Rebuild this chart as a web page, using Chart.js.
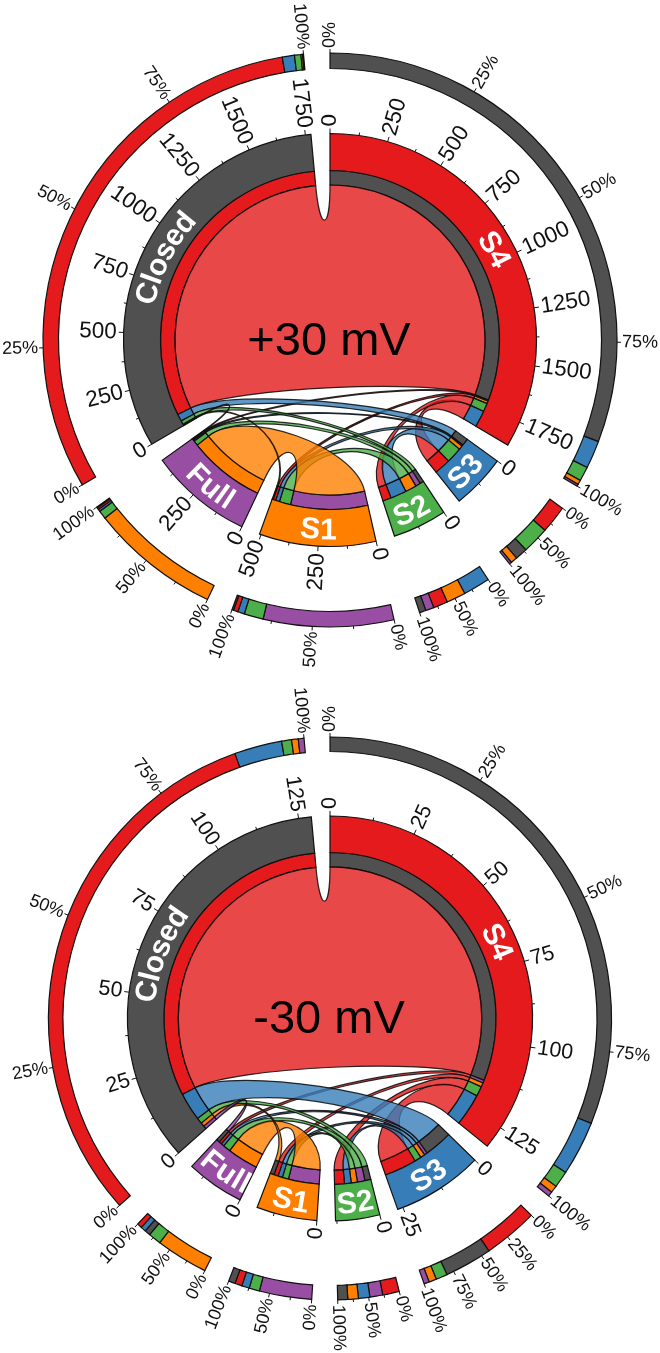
<!DOCTYPE html>
<html>
<head>
<meta charset="utf-8">
<script src="https://cdn.jsdelivr.net/npm/chart.js@4"></script>
<style>
html,body{margin:0;padding:0;background:#fff;}
canvas{position:absolute;left:0;}
</style>
</head>
<body>
<canvas id="topChart" style="top:0"></canvas>
<canvas id="bottomChart" style="top:684px"></canvas>
<script>
const sectors = ['S4','S3','S2','S1','Full','Closed'];
const sectorColors = ['#e41a1c','#377eb8','#4daf4a','#ff7f00','#984ea3','#505050'];
const ribbonColors = ['rgba(228,26,28,0.8)','rgba(55,126,184,0.8)','rgba(77,175,74,0.8)','rgba(255,127,0,0.8)','rgba(152,78,163,0.8)','rgba(80,80,80,0.8)'];
// clockwise order of partners inside each sector's link ring
const partnerOrder = [[5,4,3,2,1],[5,4,3,2,0],[5,4,3,1,0],[4,2,1,0,5],[3,2,1,0,5],[4,3,2,1,0]];

// +30 mV flows, rows and columns follow `sectors`
const topS4     = [0,87,45,14,6,1708];
const topS3     = [87,0,84,21,7,38];
const topS2     = [45,84,0,60,26,20];
const topS1     = [14,21,60,0,407,5];
const topFull   = [6,7,26,407,0,3];
const topClosed = [1708,38,20,5,3,0];
const topPercentLabelStep = [25,50,50,50,50,25];

// -30 mV flows
const botS4     = [0,11.5,3.5,1.5,1,114];
const botS3     = [11.5,0,2.4,1.6,1.1,10];
const botS2     = [3.5,2.4,0,2.2,2.7,2.1];
const botS1     = [1.5,1.6,2.2,0,11,1.4];
const botFull   = [1,1.1,2.7,11,0,1.2];
const botClosed = [114,10,2.1,1.4,1.2,0];
const botPercentLabelStep = [25,25,50,50,50,25];

const GAP_DEG = 5.3;
const RIBBON_PULL = 0.7;
const FONT = '"Liberation Sans", Arial, sans-serif';

function buildPanel(id, flows, opts) {
  const totals = flows.map(r => r.reduce((a,b)=>a+b,0));
  const grand = totals.reduce((a,b)=>a+b,0);
  const gap = grand * GAP_DEG / (360 - sectors.length * GAP_DEG);

  const main = {data:[],backgroundColor:[],borderWidth:[]};
  const link = {data:[],backgroundColor:[],borderWidth:[]};
  const pct  = {data:[],backgroundColor:[],borderWidth:[]};
  const push = (d,v,c,b) => {d.data.push(v);d.backgroundColor.push(c);d.borderWidth.push(b);};
  const mainIndex = [], linkIndex = {};

  sectors.forEach((name,i) => {
    mainIndex[i] = main.data.length;
    push(main,totals[i],sectorColors[i],1.2);
    push(main,gap,'rgba(0,0,0,0)',0);
    partnerOrder[i].forEach(p => {
      linkIndex[i+'-'+p] = link.data.length;
      push(link,flows[i][p],sectorColors[p],1.2);
    });
    push(link,gap,'rgba(0,0,0,0)',0);
    partnerOrder[i].slice().sort((a,b)=>flows[i][b]-flows[i][a]).forEach(p => {
      push(pct,flows[i][p],sectorColors[p],1.2);
    });
    push(pct,gap,'rgba(0,0,0,0)',0);
  });

  const R = opts.radii;
  const weights = [R[0]-R[1],R[1]-R[2],R[2]-R[3],R[3]-R[4]];

  const chordPlugin = {
    id:'chord',
    afterDatasetsDraw(chart){
      const ctx = chart.ctx;
      const cx = (chart.chartArea.left+chart.chartArea.right)/2;
      const cy = (chart.chartArea.top+chart.chartArea.bottom)/2;
      const mainArcs = chart.getDatasetMeta(2).data;
      const linkArcs = chart.getDatasetMeta(3).data;
      const rLink = linkArcs[0].innerRadius;
      const at = (a,r)=>[cx+r*Math.cos(a),cy+r*Math.sin(a)];
      const curve = (a,b) => {
        const c1=at(a,rLink*RIBBON_PULL), c2=at(b,rLink*RIBBON_PULL), p=at(b,rLink);
        ctx.bezierCurveTo(c1[0],c1[1],c2[0],c2[1],p[0],p[1]);
      };
      // ribbons
      ctx.save();
      for (let i=0;i<sectors.length;i++){
        for (let j=i+1;j<sectors.length;j++){
          const A = linkArcs[linkIndex[i+'-'+j]];
          const B = linkArcs[linkIndex[j+'-'+i]];
          ctx.beginPath();
          ctx.arc(cx,cy,rLink,A.startAngle,A.endAngle);
          curve(A.endAngle,B.startAngle);
          ctx.arc(cx,cy,rLink,B.startAngle,B.endAngle);
          curve(B.endAngle,A.startAngle);
          ctx.closePath();
          ctx.fillStyle = ribbonColors[i];
          ctx.fill();
          ctx.strokeStyle='rgba(10,10,10,0.85)';
          ctx.lineWidth=1.2;
          ctx.stroke();
        }
      }
      ctx.restore();

      const tick = (a,r0,len) => {
        const p0=at(a,r0), p1=at(a,r0+len);
        ctx.beginPath();ctx.moveTo(p0[0],p0[1]);ctx.lineTo(p1[0],p1[1]);ctx.stroke();
      };
      const radial = (text,a,r,font) => {
        const p = at(a,r);
        ctx.save();
        ctx.translate(p[0],p[1]);
        let bearing = (a+Math.PI/2) % (2*Math.PI);
        if (bearing<0) bearing += 2*Math.PI;
        ctx.font = font; ctx.fillStyle='#111'; ctx.textBaseline='middle';
        if (bearing < Math.PI-0.001){ ctx.rotate(a); ctx.textAlign='left'; }
        else { ctx.rotate(a+Math.PI); ctx.textAlign='right'; }
        ctx.fillText(text,0,0);
        ctx.restore();
      };

      ctx.save();
      ctx.strokeStyle='#111'; ctx.lineWidth=1;
      const mainOuter = R[2], pctOuter = R[0];
      sectors.forEach((name,i) => {
        const arc = mainArcs[mainIndex[i]];
        const s = arc.startAngle, e = arc.endAngle;
        const perUnit = (e-s)/totals[i];
        // value axis
        const half = opts.tickStep/2;
        for (let k=0; k*half<=totals[i]+1e-6; k++){
          const a = s + k*half*perUnit;
          if (k%2===0){
            tick(a,mainOuter,5);
            radial(String(k*half),a,mainOuter+7,opts.valueFont+'px '+FONT);
          } else tick(a,mainOuter,3);
        }
        // percent axis
        const step = opts.pctSteps[i];
        for (let q=0;q<=100;q+=25){
          const a = s + (e-s)*q/100;
          if (q%step===0){
            tick(a,pctOuter,4);
            radial(q+'%',a,pctOuter+5,opts.pctFont+'px '+FONT);
          } else tick(a,pctOuter,3);
        }
        // sector name, bent along the ring
        const mid = (s+e)/2;
        const rText = (R[2]+R[3])/2;
        let bearing = (mid+Math.PI/2)%(2*Math.PI);
        const flip = bearing>Math.PI/2 && bearing<3*Math.PI/2;
        ctx.save();
        ctx.font='bold '+opts.nameFont+'px '+FONT;
        ctx.fillStyle='#fff'; ctx.textAlign='center'; ctx.textBaseline='middle';
        const widths=[...name].map(c=>ctx.measureText(c).width);
        const tw=widths.reduce((x,y)=>x+y,0);
        let run=-tw/2;
        [...name].forEach((c,n)=>{
          const off=(run+widths[n]/2)/rText;
          const a= flip ? mid-off : mid+off;
          const p=at(a,rText);
          ctx.save();
          ctx.translate(p[0],p[1]+3);
          ctx.rotate(a+(flip?-Math.PI/2:Math.PI/2));
          ctx.fillText(c,0,0);
          ctx.restore();
          run+=widths[n];
        });
        ctx.restore();
      });
      // panel label
      ctx.fillStyle='#000';
      ctx.font=opts.labelFont+'px '+FONT;
      ctx.textAlign='center'; ctx.textBaseline='middle';
      ctx.fillText(opts.label,cx-1,cy+2);
      ctx.restore();
    }
  };

  return new Chart(document.getElementById(id),{
    type:'doughnut',
    data:{labels:[],datasets:[
      Object.assign({weight:weights[0]},pct),
      {weight:weights[1],data:[1],backgroundColor:['rgba(0,0,0,0)'],borderWidth:[0]},
      Object.assign({weight:weights[2]},main),
      Object.assign({weight:weights[3]},link)
    ]},
    options:{
      responsive:false,
      animation:false,
      radius:R[0],
      cutout:(R[4]/R[0]*100)+'%',
      layout:{padding:0},
      events:[],
      elements:{arc:{borderColor:'#111',borderJoinStyle:'miter',borderAlign:'center'}},
      plugins:{legend:{display:false},tooltip:{enabled:false}}
    },
    plugins:[chordPlugin]
  });
}

function setSize(id,w,h){const c=document.getElementById(id);c.width=w;c.height=h;c.style.width=w+'px';c.style.height=h+'px';}
setSize('topChart',660,680);
setSize('bottomChart',660,669);

buildPanel('topChart',[topS4,topS3,topS2,topS1,topFull,topClosed],{
  radii:[287,271.5,206.5,169.5,155],tickStep:250,pctSteps:topPercentLabelStep,
  valueFont:22.5,pctFont:18,nameFont:30,labelFont:47,label:'+30 mV'});
buildPanel('bottomChart',[botS4,botS3,botS2,botS1,botFull,botClosed],{
  radii:[281.5,267,202.5,166,151.7],tickStep:25,pctSteps:botPercentLabelStep,
  valueFont:21.5,pctFont:18,nameFont:30,labelFont:47,label:'-30 mV'});
</script>
</body>
</html>
